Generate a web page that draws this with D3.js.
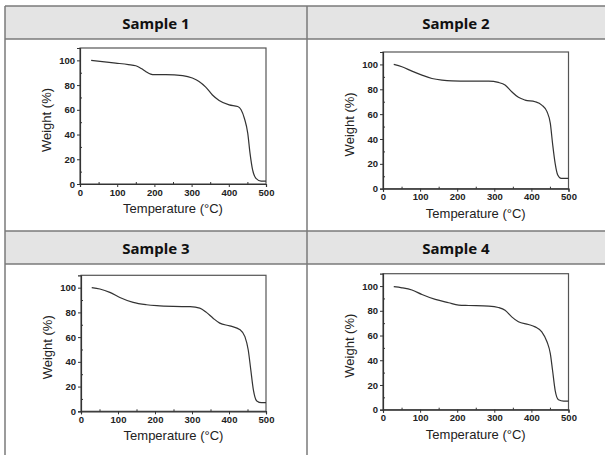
<!DOCTYPE html>
<html>
<head>
<meta charset="utf-8">
<script src="https://cdn.jsdelivr.net/npm/d3@7"></script>
<style>
  html, body { margin: 0; padding: 0; background: #fff; }
  svg { display: block; }
</style>
</head>
<body>
<div id="chart"></div>
<script>
// -----------------------------------------------------------------------------
// Data
// -----------------------------------------------------------------------------

var sampleNames = ["Sample 1", "Sample 2", "Sample 3", "Sample 4"];

var temp1   = [30, 60, 96, 130, 150, 160, 170, 180, 190, 200, 231, 276, 302, 320, 338, 356, 374, 401, 424, 433, 442, 451, 457, 464, 473, 487, 500];
var weight1 = [100, 99, 97.8, 96.6, 95.6, 94.3, 92.4, 90.4, 88.9, 88.4, 88.4, 87.6, 85.7, 83, 78.4, 72, 67.6, 64, 62.7, 60, 53, 41, 25, 11.4, 4.6, 2.4, 2.4];

var temp2   = [29, 51, 78, 105, 132, 159, 186, 231, 285, 311, 329, 347, 365, 383, 410, 428, 442, 451, 457, 464, 471, 480, 500];
var weight2 = [100, 98.1, 94.6, 91.4, 88.7, 87.4, 86.8, 86.6, 86.6, 85.5, 83.4, 78, 73.5, 71.3, 70, 67.3, 62, 52.5, 36.5, 20.4, 11, 8.3, 8.3];

var temp3   = [29, 51, 78, 105, 141, 177, 205, 250, 295, 321, 339, 357, 375, 402, 430, 443, 452, 459, 466, 475, 488, 500];
var weight3 = [100, 98.9, 96.2, 92.1, 88.1, 86.2, 85.4, 84.8, 84.6, 83.5, 80, 75.3, 71.3, 69.1, 65.9, 60.4, 49.6, 33.3, 17.1, 8.4, 7, 7];

var temp4   = [29, 51, 78, 105, 141, 177, 204, 231, 285, 311, 329, 347, 365, 392, 410, 428, 442, 451, 457, 464, 473, 487, 500];
var weight4 = [99.5, 98.6, 96.8, 93.2, 89.2, 86.5, 84.6, 84.3, 83.8, 82.7, 80.5, 75.1, 71.1, 68.9, 67, 63, 55, 45.4, 31.9, 15.7, 8.1, 7, 7];

var xTicks = [0, 100, 200, 300, 400, 500];
var xMinorTicks = [50, 150, 250, 350, 450];
var yTicks = [0, 20, 40, 60, 80, 100];
var yMinorTicks = [10, 30, 50, 70, 90];

var temps = [temp1, temp2, temp3, temp4];
var weights = [weight1, weight2, weight3, weight4];

// -----------------------------------------------------------------------------
// Layout
// -----------------------------------------------------------------------------

var W = 605, H = 455;
var tableLeft = 5, tableTop = 6, colSplit = 307;
var rowTops = [6, 231], headerH = 33;
var plotFont = "Arial, 'Liberation Sans', Helvetica, sans-serif";

// plot boxes: left, right, bottom, top (pixel)
var boxes = [
  {l: 80,  r: 266,   b: 184,   t: 48},
  {l: 383, r: 568.5, b: 188.7, t: 52},
  {l: 81,  r: 266,   b: 411.3, t: 275.3},
  {l: 383, r: 568.5, b: 409.7, t: 273.7}
];

var svg = d3.select("#chart").append("svg")
    .attr("width", W)
    .attr("height", H);

// header bands
rowTops.forEach(function(y) {
  svg.append("rect")
      .attr("x", tableLeft)
      .attr("y", y)
      .attr("width", W - tableLeft)
      .attr("height", headerH)
      .attr("fill", "#e4e4e4");
});

var gridColor = "#7a7a7a";
function hline(y) {
  svg.append("line")
      .attr("x1", tableLeft).attr("x2", W)
      .attr("y1", y).attr("y2", y)
      .attr("stroke", gridColor).attr("stroke-width", 1.5);
}
hline(rowTops[0]);
hline(rowTops[0] + headerH);
hline(rowTops[1]);
hline(rowTops[1] + headerH);

[tableLeft, colSplit].forEach(function(x) {
  svg.append("line")
      .attr("x1", x).attr("x2", x)
      .attr("y1", tableTop).attr("y2", H)
      .attr("stroke", gridColor).attr("stroke-width", 1.5);
});

// header labels
sampleNames.forEach(function(name, i) {
  var col = i % 2, row = Math.floor(i / 2);
  var x0 = col === 0 ? tableLeft : colSplit;
  var x1 = col === 0 ? colSplit : W;
  svg.append("text")
      .attr("x", (x0 + x1) / 2)
      .attr("y", rowTops[row] + 22.5)
      .attr("text-anchor", "middle")
      .attr("font-family", "'Noto Sans', sans-serif")
      .attr("font-size", 15)
      .attr("font-weight", "bold")
      .attr("fill", "#111")
      .text(name);
});

// -----------------------------------------------------------------------------
// Panels
// -----------------------------------------------------------------------------

var axisColor = "#333";

sampleNames.forEach(function(name, i) {
  var box = boxes[i];

  var xScale = d3.scaleLinear()
      .domain([0, 500])
      .range([box.l, box.r]);

  var yScale = d3.scaleLinear()
      .domain([0, 110])
      .range([box.b, box.t]);

  var g = svg.append("g");

  // frame (top + right)
  g.append("rect")
      .attr("x", box.l)
      .attr("y", box.t)
      .attr("width", box.r - box.l)
      .attr("height", box.b - box.t)
      .attr("fill", "none")
      .attr("stroke", "#555")
      .attr("stroke-width", 1.2);

  // x axis
  g.append("g")
      .attr("transform", "translate(0," + box.b + ")")
      .call(d3.axisBottom(xScale).tickValues(xTicks).tickSize(3).tickPadding(2));
  g.append("g")
      .attr("transform", "translate(0," + box.b + ")")
      .call(d3.axisBottom(xScale).tickValues(xMinorTicks).tickSize(-2).tickFormat(""))
      .call(function(s) { s.select(".domain").remove(); });

  // y axis
  g.append("g")
      .attr("transform", "translate(" + box.l + ",0)")
      .call(d3.axisLeft(yScale).tickValues(yTicks).tickSize(3).tickPadding(2));
  g.append("g")
      .attr("transform", "translate(" + box.l + ",0)")
      .call(d3.axisLeft(yScale).tickValues(yMinorTicks).tickSize(-2).tickFormat(""))
      .call(function(s) { s.select(".domain").remove(); });

  g.selectAll(".domain").attr("stroke", axisColor).attr("stroke-width", 1.2);
  g.selectAll(".tick line").attr("stroke", axisColor);
  g.selectAll("g")
      .attr("font-family", plotFont)
      .attr("font-size", 9.5);
  g.selectAll(".tick text")
      .attr("font-weight", "bold")
      .attr("fill", "#222");

  // axis titles
  g.append("text")
      .attr("x", (box.l + box.r) / 2)
      .attr("y", box.b + 29)
      .attr("text-anchor", "middle")
      .attr("font-family", plotFont)
      .attr("font-size", 13)
      .attr("fill", "#222")
      .text("Temperature (\u00B0C)");

  g.append("text")
      .attr("transform", "translate(" + (box.l - 29) + "," + ((box.t + box.b) / 2 + 4) + ") rotate(-90)")
      .attr("text-anchor", "middle")
      .attr("font-family", plotFont)
      .attr("font-size", 13)
      .attr("fill", "#222")
      .text("Weight (%)");

  // curve
  var points = temps[i].map(function(t, j) { return {t: t, w: weights[i][j]}; });

  var line = d3.line()
      .x(function(d) { return xScale(d.t); })
      .y(function(d) { return yScale(d.w); })
      .curve(d3.curveMonotoneX);

  g.append("path")
      .datum(points)
      .attr("d", line)
      .attr("fill", "none")
      .attr("stroke", "#333")
      .attr("stroke-width", 1.2);
});
</script>
</body>
</html>
